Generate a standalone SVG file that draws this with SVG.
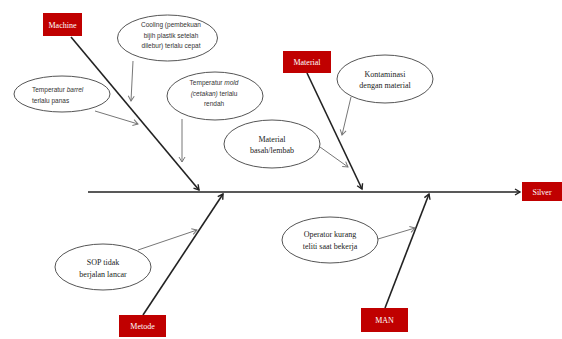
<svg xmlns="http://www.w3.org/2000/svg" width="562" height="339" viewBox="0 0 562 339">
<style>
.box{fill:#c00000;}
.bt{font-family:"Liberation Serif",serif;font-size:8px;fill:#fff;text-anchor:middle;}
.el{fill:#fff;stroke:#555;stroke-width:1;}
.st{font-family:"Liberation Serif",serif;font-size:8px;fill:#222;text-anchor:middle;}
.ss{font-family:"Liberation Sans",sans-serif;font-size:6.5px;fill:#333;text-anchor:middle;}
.ssl{font-family:"Liberation Sans",sans-serif;font-size:6.5px;fill:#333;text-anchor:start;}
.bone{stroke:#222;stroke-width:1.6;fill:none;marker-end:url(#ah);}
.sub{stroke:#777;stroke-width:1;fill:none;marker-end:url(#ah2);}
</style>
<defs>
<marker id="ah" markerWidth="8" markerHeight="8" refX="6" refY="4" orient="auto" markerUnits="userSpaceOnUse">
<path d="M1,1 L6,4 L1,7" fill="none" stroke="#222" stroke-width="1.4"/>
</marker>
<marker id="ah2" markerWidth="8" markerHeight="8" refX="6" refY="4" orient="auto" markerUnits="userSpaceOnUse">
<path d="M1,1 L6,4 L1,7" fill="none" stroke="#777" stroke-width="1"/>
</marker>
</defs>
<rect width="562" height="339" fill="#fff"/>
<g id="connectors">
<line class="bone" x1="88" y1="192" x2="520" y2="192"/>
<line class="bone" x1="71" y1="37" x2="199" y2="190"/>
<line class="bone" x1="307" y1="73" x2="362" y2="189"/>
<line class="bone" x1="143" y1="315" x2="223" y2="194"/>
<line class="bone" x1="385" y1="308" x2="429" y2="194"/>
<line class="sub" x1="133" y1="61" x2="131" y2="101"/>
<line class="sub" x1="95" y1="111" x2="138" y2="124"/>
<line class="sub" x1="182" y1="119" x2="182" y2="162"/>
<line class="sub" x1="351" y1="97" x2="342" y2="135"/>
<line class="sub" x1="320" y1="147" x2="348" y2="167"/>
<line class="sub" x1="138" y1="250" x2="197" y2="230"/>
<line class="sub" x1="378" y1="239" x2="415" y2="228"/>
</g>
<g id="machine"><rect class="box" x="43" y="13" width="39" height="23"/><text class="bt" x="62.5" y="27.5">Machine</text></g>
<g id="material"><rect class="box" x="283" y="51" width="48" height="22"/><text class="bt" x="307" y="65">Material</text></g>
<g id="metode"><rect class="box" x="119" y="315" width="47" height="22"/><text class="bt" x="142.5" y="329">Metode</text></g>
<g id="man"><rect class="box" x="361" y="308" width="47" height="24"/><text class="bt" x="384.5" y="323">MAN</text></g>
<g id="silver"><rect class="box" x="522" y="182" width="40" height="19"/><text class="bt" x="542" y="194.5">Silver</text></g>
<g id="cooling"><ellipse class="el" cx="167.5" cy="38" rx="50" ry="23"/>
<text class="ss" x="171" y="27">Cooling (pembekuan</text>
<text class="ss" x="171" y="37.5">bijih plastik setelah</text>
<text class="ss" x="171" y="48">dilebur) terlalu cepat</text></g>
<g id="barrel"><ellipse class="el" cx="62" cy="94" rx="48" ry="18"/>
<text class="ssl" x="32" y="92">Temperatur <tspan font-style="italic">barrel</tspan></text>
<text class="ssl" x="32" y="103">terlalu panas</text></g>
<g id="mold"><ellipse class="el" cx="215" cy="96" rx="48" ry="24"/>
<text class="ss" x="214" y="85">Temperatur <tspan font-style="italic">mold</tspan></text>
<text class="ss" x="214" y="95.5"><tspan font-style="italic">(cetakan)</tspan> terlalu</text>
<text class="ss" x="214" y="106">rendah</text></g>
<g id="kontaminasi"><ellipse class="el" cx="385" cy="79" rx="48" ry="24"/>
<text class="st" x="385" y="77">Kontaminasi</text>
<text class="st" x="385" y="88">dengan material</text></g>
<g id="basah"><ellipse class="el" cx="272" cy="144" rx="48" ry="24"/>
<text class="st" x="272" y="142">Material</text>
<text class="st" x="272" y="153">basah/lembab</text></g>
<g id="sop"><ellipse class="el" cx="103" cy="267" rx="48" ry="23"/>
<text class="st" x="103" y="265">SOP tidak</text>
<text class="st" x="103" y="277">berjalan lancar</text></g>
<g id="operator"><ellipse class="el" cx="330" cy="240" rx="48" ry="23"/>
<text class="st" x="330" y="237">Operator kurang</text>
<text class="st" x="330" y="249">teliti saat bekerja</text></g>
</svg>
